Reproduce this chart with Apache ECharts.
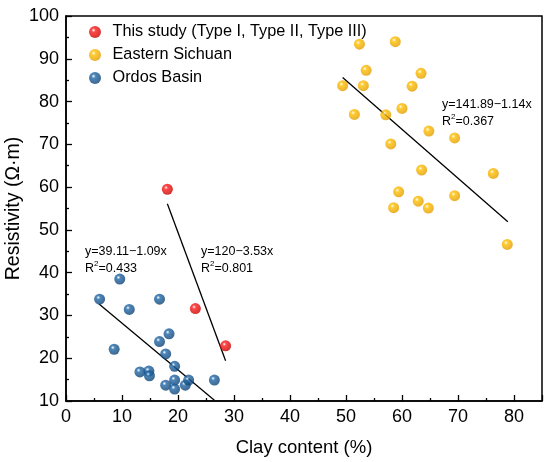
<!DOCTYPE html>
<html>
<head>
<meta charset="utf-8">
<script src="https://cdn.jsdelivr.net/npm/echarts@6/dist/echarts.min.js"></script>
<style>
  html, body { margin: 0; padding: 0; background: #fff; }
  #chart { width: 550px; height: 462px; }
</style>
</head>
<body>
<div id="chart"></div>
<script>
// This study (Type I, II, III): [clay %, resistivity]
const thisStudy = [[18.1, 59.5], [23.1, 31.6], [28.5, 22.9]];

// Eastern Sichuan samples
const easternSichuan = [
    [52.4, 93.4], [58.8, 94.0], [53.6, 87.3], [63.4, 86.6], [49.4, 83.7],
    [53.1, 83.7], [61.8, 83.6], [51.5, 77.0], [57.1, 76.9], [60.0, 78.4],
    [64.8, 73.1], [69.4, 71.5], [58.0, 70.1], [63.5, 64.0], [76.3, 63.2],
    [59.4, 58.9], [69.4, 58.0], [62.9, 56.7], [58.5, 55.2], [64.7, 55.1],
    [78.8, 46.6]
];

// Ordos Basin samples
const ordosBasin = [
    [6.0, 33.8], [9.6, 38.5], [11.3, 31.4], [16.7, 33.8], [8.6, 22.1],
    [18.4, 25.7], [16.7, 23.9], [17.8, 21.0], [19.4, 18.1], [13.2, 16.8],
    [14.8, 17.0], [14.9, 15.9], [17.8, 13.7], [19.4, 14.9], [19.4, 12.8],
    [21.3, 13.7], [21.9, 14.9], [26.5, 14.9]
];

// fitted line end points
const fitThisStudy = [[18.1, 56.1], [28.5, 19.4]];
const fitSichuan = [[49.4, 85.6], [78.9, 51.9]];
const fitOrdos = [[5.9, 32.7], [26.5, 10.2]];

const seriesNames = ['This study (Type I, Type II, Type III)', 'Eastern Sichuan', 'Ordos Basin'];
const fitLabels = [
    { eq: 'y=39.11\u22121.09x', r2: '0.433', left: 85, top: 243 },
    { eq: 'y=120\u22123.53x', r2: '0.801', left: 201, top: 243 },
    { eq: 'y=141.89\u22121.14x', r2: '0.367', left: 442, top: 96 }
];

const FONT = 'Arial, "Liberation Sans", sans-serif';

function ball(base, dark) {
    return {
        type: 'radial', x: 0.38, y: 0.35, r: 0.7,
        colorStops: [
            { offset: 0, color: '#ffffff' },
            { offset: 0.25, color: base },
            { offset: 1, color: dark }
        ]
    };
}

function scatter(name, data, base, dark) {
    return {
        name: name,
        type: 'scatter',
        data: data,
        symbolSize: 11,
        itemStyle: { color: ball(base, dark) },
        z: 3
    };
}

function fitLine(data) {
    return {
        type: 'line',
        data: data,
        symbol: 'none',
        silent: true,
        lineStyle: { color: '#000', width: 1.3 },
        z: 2
    };
}

const chart = echarts.init(document.getElementById('chart'));

const options = {
    animation: false,
    backgroundColor: '#fff',
    textStyle: { fontFamily: FONT },
    grid: {
        left: 66, right: 8, top: 16, bottom: 61,
        containLabel: false,
        outerBoundsMode: 'none',
        show: true, borderColor: '#000', borderWidth: 1.5
    },
    legend: {
        data: seriesNames,
        orient: 'vertical',
        left: 84, top: 19,
        itemGap: 7,
        itemWidth: 13, itemHeight: 12,
        textStyle: { fontSize: 16.3, color: '#000', fontFamily: FONT, padding: [0, 0, 0, 6] },
        icon: 'circle'
    },
    xAxis: {
        type: 'value',
        min: 0, max: 85, interval: 10,
        name: 'Clay content (%)',
        nameLocation: 'middle',
        nameGap: 37,
        nameMoveOverlap: false,
        nameTextStyle: { fontSize: 18.5, color: '#000' },
        axisLine: { lineStyle: { color: '#000', width: 1.5 } },
        axisTick: { inside: true, length: 6, lineStyle: { color: '#000', width: 1.3 } },
        minorTick: { show: true, splitNumber: 2, length: 3, lineStyle: { color: '#000', width: 1.3 } },
        axisLabel: { fontSize: 18, color: '#000', margin: 7, showMaxLabel: false },
        splitLine: { show: false }
    },
    yAxis: {
        type: 'value',
        min: 10, max: 100, interval: 10,
        name: 'Resistivity (\u03A9\u00B7m)',
        nameLocation: 'middle',
        nameGap: 42,
        nameMoveOverlap: false,
        nameTextStyle: { fontSize: 19.5, color: '#000' },
        axisLine: { show: true, lineStyle: { color: '#000', width: 1.5 } },
        axisTick: { show: true, inside: true, length: 6, lineStyle: { color: '#000', width: 1.3 } },
        minorTick: { show: true, splitNumber: 2, length: 3, lineStyle: { color: '#000', width: 1.3 } },
        axisLabel: { fontSize: 18, color: '#000', margin: 7 },
        splitLine: { show: false }
    },
    graphic: fitLabels.map(function (f) {
        return {
            type: 'text',
            left: f.left, top: f.top,
            z: 10,
            style: {
                text: f.eq + '\n{r|R}{s|2}{r|=' + f.r2 + '}',
                fill: '#000',
                font: '12.5px ' + FONT,
                lineHeight: 17,
                rich: {
                    r: { fontSize: 12.5, fontFamily: FONT, fill: '#000' },
                    s: { fontSize: 8, fontFamily: FONT, fill: '#000', verticalAlign: 'top', padding: [0, 0, 6, 0] }
                }
            }
        };
    }),
    series: [
        scatter(seriesNames[0], thisStudy, '#ff1a1a', '#c00000'),
        scatter(seriesNames[1], easternSichuan, '#ffbf00', '#e09a00'),
        scatter(seriesNames[2], ordosBasin, '#2068a8', '#0d3f70'),
        fitLine(fitThisStudy),
        fitLine(fitSichuan),
        fitLine(fitOrdos)
    ]
};

chart.setOption(options);
</script>
</body>
</html>
